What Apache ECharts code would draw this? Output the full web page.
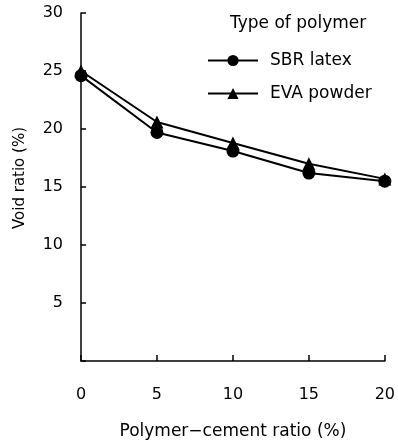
<!DOCTYPE html>
<html lang="en">
<head>
    <meta charset="UTF-8" />
    <title>Void ratio vs polymer-cement ratio</title>
    <script src="https://cdn.jsdelivr.net/npm/echarts@6/dist/echarts.min.js"></script>
    <style>
        body { margin: 0; background: #fff; }
        #chart { width: 398px; height: 445px; }
    </style>
</head>
<body>
<div id="chart"></div>
<script>
    // polymer-cement ratio (%)
    const pcRatio = [0, 5, 10, 15, 20];
    // void ratio (%) per polymer type
    const sbrLatex = [24.6, 19.7, 18.1, 16.2, 15.5];
    const evaPowder = [25.0, 20.6, 18.8, 17.0, 15.7];

    const font = '"DejaVu Sans", sans-serif';
    const chart = echarts.init(document.getElementById('chart'));

    const toPairs = vals => pcRatio.map((x, i) => [x, vals[i]]);

    chart.setOption({
        animation: false,
        title: {
            text: 'Type of polymer',
            left: 230, top: 15, padding: 0,
            textStyle: { fontFamily: font, fontSize: 17, fontWeight: 'normal', color: '#000' }
        },
        legend: {
            orient: 'vertical',
            left: 207, top: 52, padding: 0,
            itemWidth: 50, itemHeight: 14,
            itemGap: 16,
            textStyle: { fontFamily: font, fontSize: 17, lineHeight: 17, color: '#000', padding: [0, 0, 0, 7] },
            data: ['SBR latex', 'EVA powder']
        },
        grid: { left: 81, right: 13, top: 13, bottom: 81 },
        xAxis: {
            type: 'value', min: 0, max: 20, interval: 5,
            name: 'Polymer\u2212cement ratio (%)',
            nameLocation: 'middle', nameGap: 62,
            nameTextStyle: { fontFamily: font, fontSize: 17, color: '#000' },
            axisLine: { lineStyle: { color: '#000', width: 1.5 } },
            axisTick: { inside: true, length: 6, lineStyle: { color: '#000', width: 1.5 } },
            axisLabel: { fontFamily: font, fontSize: 16, color: '#000', margin: 26 },
            splitLine: { show: false }
        },
        yAxis: {
            type: 'value', min: 0, max: 30, interval: 5,
            name: 'Void ratio (%)',
            nameLocation: 'middle', nameGap: 53,
            nameTextStyle: { fontFamily: font, fontSize: 15, color: '#000', padding: [0, 0, 0, 18] },
            axisLine: { show: true, lineStyle: { color: '#000', width: 1.5 } },
            axisTick: { show: true, inside: true, length: 5, lineStyle: { color: '#000', width: 1.5 } },
            axisLabel: {
                fontFamily: font, fontSize: 16, color: '#000', margin: 18,
                formatter: v => (v === 0 ? '' : v)
            },
            splitLine: { show: false }
        },
        series: [
            {
                name: 'SBR latex', type: 'line',
                data: toPairs(sbrLatex),
                symbol: 'circle', symbolSize: 13,
                lineStyle: { color: '#000', width: 2 },
                itemStyle: { color: '#000' }
            },
            {
                name: 'EVA powder', type: 'line',
                data: toPairs(evaPowder),
                symbol: 'triangle', symbolSize: 13,
                lineStyle: { color: '#000', width: 2 },
                itemStyle: { color: '#000' }
            }
        ]
    });
</script>
</body>
</html>
